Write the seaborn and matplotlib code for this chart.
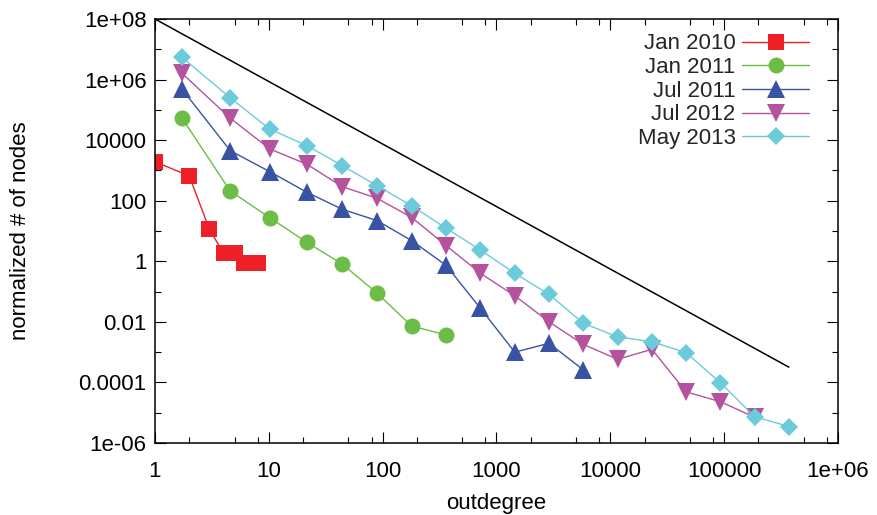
import matplotlib
matplotlib.use('Agg')
import matplotlib.pyplot as plt
import matplotlib.ticker as mticker
import numpy as np
import pandas as pd
import seaborn as sns

# log-binned outdegree (bin centres)
bin_x = [1.73, 4.58, 10.2, 21.6, 44.2, 89.4, 180, 361, 723, 1447, 2895,
         5791, 11584, 23169, 46339, 92680, 185362, 370726]

jan2010_x = [1, 2, 3, 4, 5, 6, 8]
jan2010_y = [1940, 655, 11.6, 1.84, 1.84, 0.91, 0.91]

jan2011_y = [5.3e4, 209, 27.5, 4.2, 0.81, 0.088, 0.0073, 0.0037]
jul2011_y = [4.8e5, 4.5e3, 908, 190, 52, 22, 4.8, 0.73, 0.028, 1.0e-3,
             1.96e-3, 2.6e-4]
jul2012_y = [1.6e6, 5.3e4, 5.1e3, 1.6e3, 290, 120, 28, 3.3, 0.40, 0.073,
             0.010, 0.0018, 5.8e-4, 1.24e-3, 4.9e-5, 2.3e-5, 7.1e-6]
may2013_y = [5.4e6, 2.5e5, 2.3e4, 6.6e3, 1.43e3, 313, 68, 12.3, 2.36, 0.40,
             0.081, 0.0090, 0.0032, 0.0022, 9.6e-4, 9.8e-5, 7.4e-6, 3.5e-6]

# reference power law line
ref_x = [1, 3.7e5]
ref_y = [1e8, 3.2e-4]

labels = ['Jan 2010', 'Jan 2011', 'Jul 2011', 'Jul 2012', 'May 2013']
colors = ['#ee1f26', '#6cbd45', '#3953a4', '#b5529d', '#6ccbdb']
markers = ['s', 'o', '^', 'v', 'D']
msizes = [11, 11.5, 13, 13, 9.5]

x_ticks = [1, 10, 100, 1000, 10000, 100000, 1e6]
x_tick_labels = ['1', '10', '100', '1000', '10000', '100000', '1e+06']
y_ticks = [1e-6, 1e-4, 1e-2, 1, 100, 1e4, 1e6, 1e8]
y_tick_labels = ['1e-06', '0.0001', '0.01', '1', '100', '10000', '1e+06', '1e+08']


def main():
    sns.set_theme(style='ticks')
    plt.rcParams['font.family'] = ['Liberation Sans', 'DejaVu Sans']
    fig = plt.figure(figsize=(8.78, 5.15), dpi=100)
    ax = fig.add_axes([155 / 878, 1 - 443 / 515, 683 / 878, 424 / 515])

    series_x = [jan2010_x, bin_x, bin_x, bin_x, bin_x]
    series_y = [jan2010_y, jan2011_y, jul2011_y, jul2012_y, may2013_y]
    for xs, ys, lab, col, mk, ms in zip(series_x, series_y, labels,
                                         colors, markers, msizes):
        df = pd.DataFrame({'x': xs[:len(ys)], 'y': ys})
        sns.lineplot(data=df, x='x', y='y', ax=ax, color=col, marker=mk,
                     markersize=ms, markeredgewidth=0, linewidth=1,
                     label=lab, sort=False, estimator=None)

    ax.plot(ref_x, ref_y, color='black', linewidth=1.1)

    ax.set_xscale('log')
    ax.set_yscale('log')
    ax.set_xlim(1, 1e6)
    ax.set_ylim(1e-6, 1e8)

    ax.xaxis.set_major_locator(mticker.FixedLocator(x_ticks))
    ax.xaxis.set_major_formatter(mticker.FixedFormatter(x_tick_labels))
    ax.xaxis.set_minor_locator(mticker.LogLocator(base=10, subs=(2, 5, 8),
                                                  numticks=20))
    ax.xaxis.set_minor_formatter(mticker.NullFormatter())
    ax.yaxis.set_major_locator(mticker.FixedLocator(y_ticks))
    ax.yaxis.set_major_formatter(mticker.FixedFormatter(y_tick_labels))
    ax.yaxis.set_minor_locator(mticker.FixedLocator(
        [1e-5, 1e-3, 1e-1, 10, 1e3, 1e5, 1e7]))
    ax.yaxis.set_minor_formatter(mticker.NullFormatter())

    ax.tick_params(which='both', direction='in', top=True, right=True,
                   color='black', width=0.8, labelsize=16, labelcolor='black')
    ax.tick_params(which='major', length=8)
    ax.tick_params(which='minor', length=4)
    ax.tick_params(axis='x', which='major', pad=13)
    ax.tick_params(axis='y', which='major', pad=6)
    for sp in ax.spines.values():
        sp.set_visible(True)
        sp.set_color('black')
        sp.set_linewidth(1.1)

    ax.set_xlabel('outdegree', fontsize=16, color='black', labelpad=8)
    ax.set_ylabel('normalized # of nodes', fontsize=16, color='black',
                  labelpad=34)

    handles, labs = ax.get_legend_handles_labels()
    ax.legend(handles[:5], labs[:5], loc='upper right',
              bbox_to_anchor=(0.9575, 0.966), frameon=False,
              markerfirst=False, fontsize=16, handlelength=3.0,
              handletextpad=0.3, labelspacing=0.12, borderpad=0,
              borderaxespad=0, numpoints=1)

    fig.savefig('out.png', dpi=100, facecolor='white')


if __name__ == '__main__':
    main()
